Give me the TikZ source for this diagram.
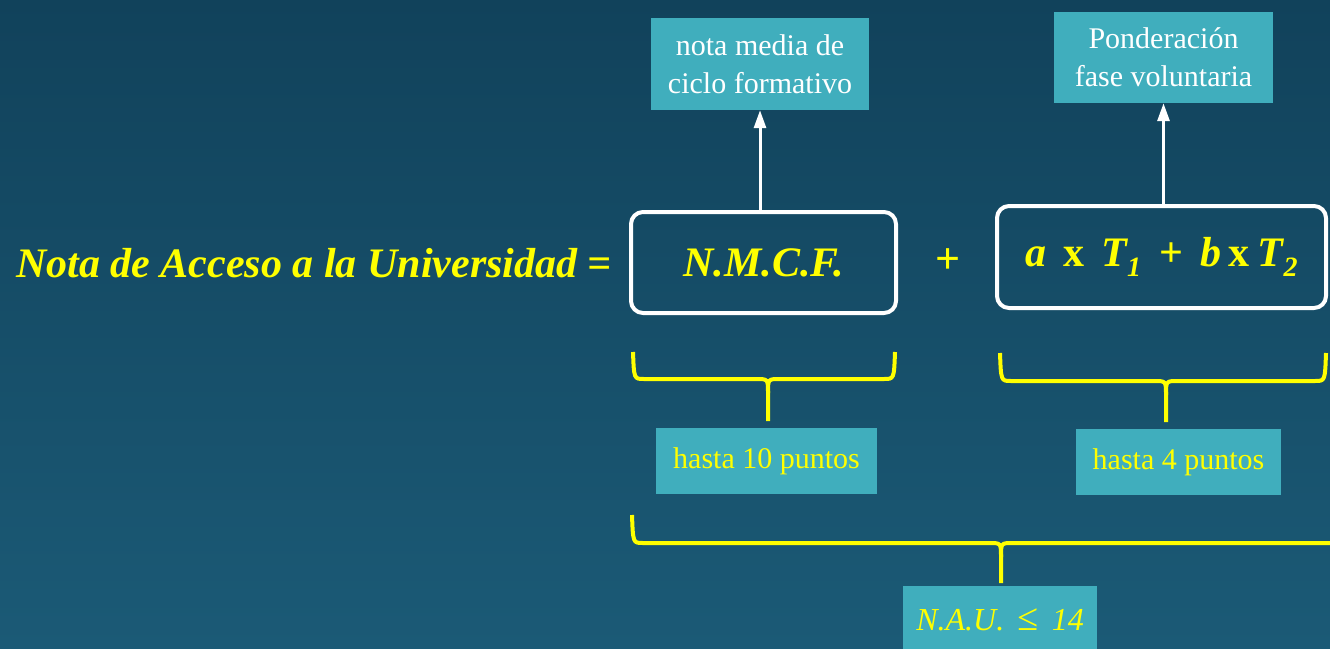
\documentclass[tikz,border=0pt]{standalone}
\usepackage{fontspec}
\setmainfont{Liberation Serif}
\usetikzlibrary{arrows.meta}

\definecolor{fondoarriba}{RGB}{17,66,91}
\definecolor{fondoabajo}{RGB}{27,90,118}
\definecolor{turquesa}{RGB}{64,174,189}
\definecolor{amarillo}{RGB}{255,255,0}

\begin{document}
\begin{tikzpicture}[
        > = {Triangle[length=18pt,width=12pt]}, % arrow head style
        x = 1pt, y = -1pt, % pixel units, y grows downwards
        line join = round
    ]

    \tikzstyle{marco}=[draw = white, line width = 4pt, rounded corners = 12pt,
    text = amarillo, font = \fontsize{42}{46}\selectfont\bfseries\itshape]
    \tikzstyle{caja}=[fill = turquesa, inner sep = 0pt, align = center,
    font = \fontsize{30}{38}\selectfont]
    \tikzstyle{llave}=[draw = amarillo, line width = 4pt]

    % background
    \useasboundingbox (0,0) rectangle (1330,648);
    \clip (0,0) rectangle (1330,648);
    \shade[top color = fondoarriba, bottom color = fondoabajo] (0,0) rectangle (1330,648);

    % formula
    \node (titulo) [text = amarillo, anchor = east, inner sep = 0pt,
        font = \fontsize{42}{46}\selectfont\bfseries\itshape] at (612,263)
        {Nota de Acceso a la Universidad =};
    \node (nmcf) [marco, minimum width = 265pt, minimum height = 101pt] at (763.5,262.5)
        {N.M.C.F.};
    \node (mas) [text = amarillo, font = \fontsize{44}{46}\selectfont\bfseries] at (948,261) {+};
    \node (pond) [marco, minimum width = 329pt, minimum height = 102pt] at (1161.5,257)
        {a\hspace{17pt}\textup{x}\hspace{17pt}T\raisebox{-10pt}{\fontsize{28}{28}\selectfont 1}%
        \hspace{18pt}\textup{+}\hspace{18pt}b\hspace{7pt}\textup{x}\hspace{8pt}%
        T\raisebox{-10pt}{\fontsize{28}{28}\selectfont 2}\hspace{22pt}};

    % upper notes
    \node (media) [caja, text = white, minimum width = 218pt, minimum height = 92pt] at (760,64)
        {nota media de\\ciclo formativo};
    \node (fase) [caja, text = white, minimum width = 219pt, minimum height = 91pt] at (1163.5,57.5)
        {Ponderación\\fase voluntaria};

    \draw[->, white, line width = 3pt] (nmcf.north -| media.south) -- (media.south);
    \draw[->, white, line width = 3pt] (pond.north -| fase.south) -- (fase.south);

    % lower notes
    \node (diez) [caja, text = amarillo, minimum width = 221pt, minimum height = 66pt] at (766.5,461)
        {hasta 10 puntos};
    \node (cuatro) [caja, text = amarillo, minimum width = 205pt, minimum height = 66pt] at (1178.5,462)
        {hasta 4 puntos};
    \node (nau) [caja, text = amarillo, minimum width = 194pt, minimum height = 68pt,
        font = \fontsize{32}{38}\selectfont\itshape] at (1000,620)
        {N.A.U. \,{\fontsize{38}{38}\selectfont ≤}\, 14};

    % braces
    \draw[llave] (633,352) .. controls (634,379) .. (644,379) -- (756,379)
        .. controls (768,379) .. (768,393) -- (768,421);
    \draw[llave] (895,352) .. controls (894,379) .. (884,379) -- (780,379)
        .. controls (768,379) .. (768,393);

    \draw[llave] (1000,353) .. controls (1001,381) .. (1011,381) -- (1154,381)
        .. controls (1166,381) .. (1166,395) -- (1166,422);
    \draw[llave] (1326,353) .. controls (1325,381) .. (1315,381) -- (1178,381)
        .. controls (1166,381) .. (1166,395);

    \draw[llave] (632,515) .. controls (633,543) .. (643,543) -- (989,543)
        .. controls (1001,543) .. (1001,557) -- (1001,583);
    \draw[llave] (1340,543) -- (1013,543)
        .. controls (1001,543) .. (1001,557);

\end{tikzpicture}
\end{document}
